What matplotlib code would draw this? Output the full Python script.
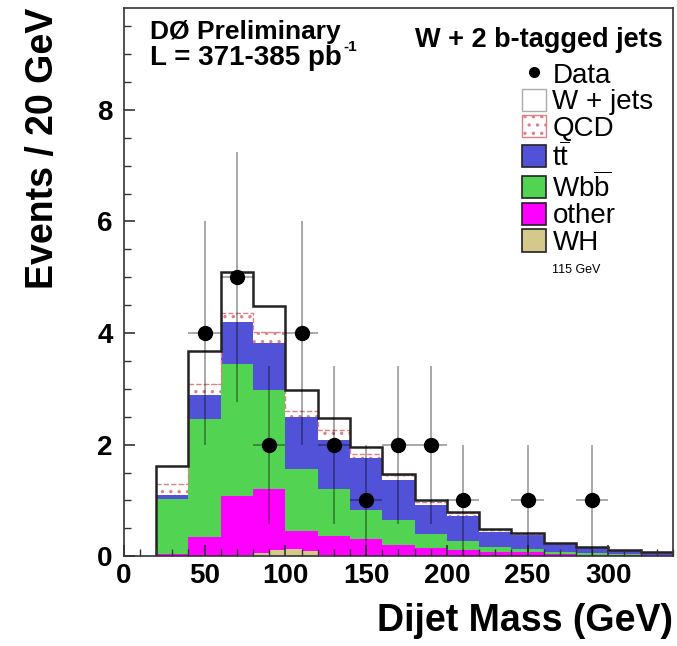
import matplotlib

matplotlib.use("Agg")

import matplotlib.pyplot as plt
import numpy as np
from matplotlib.lines import Line2D
from matplotlib.patches import Patch
from matplotlib.ticker import MultipleLocator

plt.rcParams["font.family"] = ["Liberation Sans", "DejaVu Sans"]
plt.rcParams["mathtext.fontset"] = "custom"
plt.rcParams["mathtext.rm"] = "Liberation Sans"
plt.rcParams["mathtext.bf"] = "Liberation Sans:bold"
plt.rcParams["hatch.linewidth"] = 1.2

# 20 GeV bins from 20 to 340 GeV
edges = np.arange(20, 341, 20)
other = [0.04, 0.34, 1.08, 1.21, 0.46, 0.36, 0.30, 0.20, 0.14, 0.11, 0.08, 0.07, 0.04, 0.03, 0.02, 0.02]
wbb = [0.99, 2.12, 2.36, 1.76, 1.10, 0.84, 0.53, 0.45, 0.25, 0.16, 0.08, 0.06, 0.03, 0.02, 0.02, 0.01]
ttbar = [0.07, 0.43, 0.75, 0.85, 0.93, 0.89, 0.93, 0.71, 0.52, 0.45, 0.28, 0.25, 0.15, 0.10, 0.06, 0.04]
qcd = [0.20, 0.20, 0.17, 0.19, 0.11, 0.17, 0.07, 0.09, 0.06, 0.06, 0.03, 0.02, 0.01, 0.01, 0.01, 0.01]
wjets = [0.32, 0.59, 0.73, 0.47, 0.38, 0.22, 0.13, 0.03, 0.03, 0.02, 0.02, 0.02, 0.01, 0.00, 0.00, 0.00]

# WH (115 GeV) signal, 10 GeV bins
wh_edges = np.arange(60, 141, 10)
wh = [0.00, 0.02, 0.05, 0.11, 0.13, 0.09, 0.03, 0.01]

# data
data_x = [30, 50, 70, 90, 110, 130, 150, 170, 190, 210, 230, 250, 270, 290, 310, 330]
data_n = [0, 4, 5, 2, 4, 2, 1, 2, 2, 1, 0, 1, 0, 1, 0, 0]

c_tt = "#5252d9"
c_wbb = "#52d352"
c_other = "#ff00ff"
c_wh = "#d4c98a"
c_qcd = "#e07f86"

fig = plt.figure(figsize=(6.77, 6.46), dpi=100)
ax = fig.add_axes([0.183, 0.139, 0.811, 0.849])

widths = np.diff(edges)
bottom = np.zeros(len(other))
for vals, color in [(other, c_other), (wbb, c_wbb), (ttbar, c_tt)]:
    ax.bar(edges[:-1], vals, width=widths, bottom=bottom, align="edge",
           color=color, linewidth=0)
    bottom = bottom + np.array(vals)
ax.bar(edges[:-1], qcd, width=widths, bottom=bottom, align="edge",
       facecolor="white", edgecolor=c_qcd, hatch="..", linewidth=0)
bottom = bottom + np.array(qcd)
ax.stairs(bottom, edges, baseline=None, color=c_qcd, linewidth=1.0, linestyle="--")
total = bottom + np.array(wjets)
ax.stairs(total, edges, baseline=0, color="#222222", linewidth=1.8)

ax.bar(wh_edges[:-1], wh, width=np.diff(wh_edges), align="edge", color=c_wh, linewidth=0)

x = np.array(data_x, dtype=float)
n = np.array(data_n, dtype=float)
keep = n > 0
ax.errorbar(x[keep], n[keep], yerr=np.sqrt(n[keep]), xerr=10, fmt="none",
            ecolor="black", alpha=0.4, elinewidth=1.2)
ax.plot(x[keep], n[keep], "o", color="black", markersize=10)

ax.set_xlim(0, 340)
ax.set_ylim(0, 9.83)
ax.xaxis.set_major_locator(MultipleLocator(50))
ax.xaxis.set_minor_locator(MultipleLocator(10))
ax.yaxis.set_major_locator(MultipleLocator(2))
ax.yaxis.set_minor_locator(MultipleLocator(0.5))
ax.tick_params(which="both", direction="in", top=False, right=False, color="#333333")
ax.tick_params(which="major", length=8, width=1.2)
ax.tick_params(which="minor", length=5, width=1.0)
ax.tick_params(axis="x", pad=5, labelsize=20)
ax.tick_params(axis="y", pad=8, labelsize=20)
for label in ax.get_xticklabels() + ax.get_yticklabels():
    label.set_fontweight("bold")
for spine in ax.spines.values():
    spine.set_color("#333333")
    spine.set_linewidth(1.2)

ax.set_xlabel("Dijet Mass (GeV)", fontsize=27, fontweight="bold", loc="right", labelpad=10)
ax.set_ylabel("Events / 20 GeV", fontsize=27, fontweight="bold", loc="top", labelpad=26)

fig.text(150 / 677, 1 - 32 / 646, "DØ Preliminary", fontsize=19, fontweight="bold", va="center")
fig.text(150 / 677, 1 - 58 / 646, "L = 371-385 pb", fontsize=20, fontweight="bold", va="center")
fig.text(343 / 677, 1 - 47 / 646, "-1", fontsize=11, fontweight="bold", va="center")
fig.text(663 / 677, 1 - 40 / 646, "W + 2 b-tagged jets", fontsize=19.5, fontweight="bold",
         va="center", ha="right")

handles = [
    Line2D([], [], marker="o", color="black", linestyle="none", markersize=7),
    Patch(facecolor="white", edgecolor="#aaaaaa", linewidth=1.0),
    Patch(facecolor="white", edgecolor=c_qcd, hatch="..", linewidth=1.0),
    Patch(facecolor=c_tt, edgecolor="#222222", linewidth=1.2),
    Patch(facecolor=c_wbb, edgecolor="#222222", linewidth=1.2),
    Patch(facecolor=c_other, edgecolor="#222222", linewidth=1.2),
    Patch(facecolor=c_wh, edgecolor="#222222", linewidth=1.2),
]
labels = ["Data", "W + jets", "QCD", r"t$\overline{\mathrm{t}}$", r"Wb$\overline{\mathrm{b}}$",
          "other", "WH"]
ax.legend(handles, labels, loc="upper left", bbox_to_anchor=(508 / 677, 1 - 48 / 646),
          bbox_transform=fig.transFigure, frameon=False, fontsize=20, borderpad=0,
          handlelength=0.85, handleheight=0.85, handletextpad=0.25, labelspacing=0.0)
fig.text(552 / 677, 1 - 270 / 646, "115 GeV", fontsize=9, va="center")

fig.savefig("out.png", dpi=100)
